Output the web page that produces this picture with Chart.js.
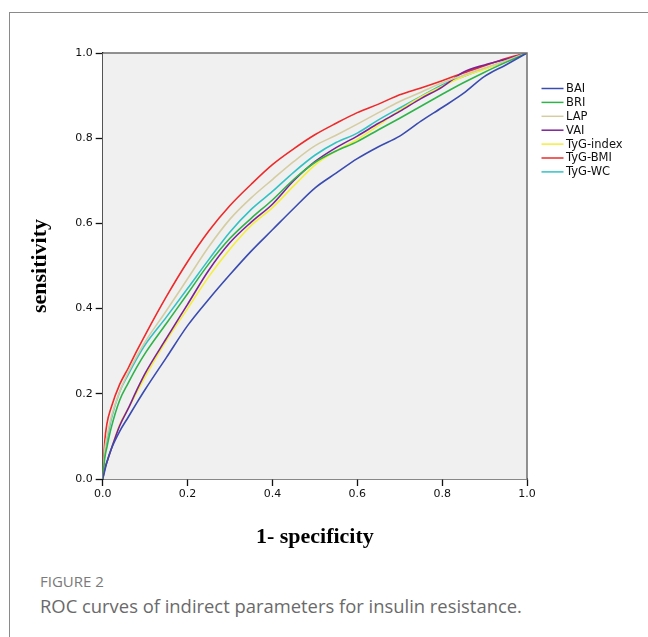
<!DOCTYPE html>
<html>
<head>
<meta charset="utf-8">
<script src="https://cdn.jsdelivr.net/npm/chart.js@4.4.1/dist/chart.umd.min.js"></script>
<style>
  body { margin: 0; background: #fff; }
  #wrap { position: relative; width: 648px; height: 637px; overflow: hidden; }
  #frame { position: absolute; left: 9px; top: 12px; right: -2px; bottom: -2px;
           border-left: 1.5px solid #8a8a8a; border-top: 1.5px solid #8a8a8a; }
  #cv { position: absolute; left: 0; top: 0; }
  .cap1 { position: absolute; left: 40px; top: 571px; font: 15px "Open Sans", sans-serif; color: #7a7a7a; }
  .cap2 { position: absolute; left: 40px; top: 593px; font: 18.4px "Open Sans", sans-serif; color: #6a6a6a; }
</style>
</head>
<body>
<div id="wrap">
  <div id="frame"></div>
  <canvas id="cv" width="648" height="565"></canvas>
  <div class="cap1">FIGURE 2</div>
  <div class="cap2">ROC curves of indirect parameters for insulin resistance.</div>
</div>
<script>
// 1 - specificity
var fpr = [0, 0.005, 0.01, 0.02, 0.04, 0.06, 0.08, 0.1, 0.15, 0.2, 0.25, 0.3, 0.35, 0.4, 0.45, 0.5, 0.55, 0.6, 0.65, 0.7, 0.75, 0.8, 0.85, 0.9, 0.95, 1];
// sensitivity per index
var bai = [0, 0.02, 0.04, 0.07, 0.112, 0.145, 0.178, 0.21, 0.285, 0.36, 0.422, 0.48, 0.535, 0.585, 0.635, 0.683, 0.718, 0.752, 0.78, 0.805, 0.84, 0.872, 0.905, 0.945, 0.972, 1];
var bri = [0, 0.05, 0.075, 0.12, 0.185, 0.225, 0.262, 0.295, 0.365, 0.435, 0.505, 0.565, 0.612, 0.655, 0.703, 0.743, 0.77, 0.792, 0.82, 0.847, 0.875, 0.903, 0.93, 0.955, 0.978, 1];
var lap = [0, 0.07, 0.10, 0.145, 0.205, 0.25, 0.288, 0.322, 0.395, 0.47, 0.545, 0.61, 0.66, 0.703, 0.745, 0.782, 0.807, 0.833, 0.86, 0.886, 0.908, 0.93, 0.948, 0.965, 0.982, 1];
var vai = [0, 0.025, 0.04, 0.07, 0.125, 0.165, 0.208, 0.248, 0.33, 0.41, 0.49, 0.555, 0.603, 0.645, 0.70, 0.745, 0.778, 0.805, 0.835, 0.863, 0.893, 0.92, 0.955, 0.972, 0.985, 1];
var tygIndex = [0, 0.025, 0.04, 0.07, 0.128, 0.165, 0.203, 0.24, 0.325, 0.40, 0.475, 0.54, 0.595, 0.637, 0.688, 0.737, 0.77, 0.797, 0.83, 0.866, 0.897, 0.922, 0.945, 0.962, 0.982, 1];
var tygBmi = [0, 0.09, 0.13, 0.168, 0.222, 0.26, 0.3, 0.338, 0.428, 0.51, 0.582, 0.642, 0.692, 0.738, 0.775, 0.808, 0.835, 0.86, 0.88, 0.902, 0.918, 0.935, 0.953, 0.97, 0.987, 1];
var tygWc = [0, 0.065, 0.09, 0.14, 0.205, 0.245, 0.282, 0.315, 0.38, 0.447, 0.515, 0.58, 0.633, 0.675, 0.72, 0.76, 0.79, 0.812, 0.843, 0.871, 0.898, 0.925, 0.945, 0.963, 0.98, 1];

var nombres = ['BAI', 'BRI', 'LAP', 'VAI', 'TyG-index', 'TyG-BMI', 'TyG-WC'];
var series = [bai, bri, lap, vai, tygIndex, tygBmi, tygWc];
var colores = ['#3a4cb0', '#2fb34a', '#d4cda2', '#7d2296', '#f4ee3c', '#ee2a2a', '#33c2c4'];
var tickLabels = ['0.0', '0.2', '0.4', '0.6', '0.8', '1.0'];

function puntos(ys) {
    var out = [];
    for (var i = 0; i < fpr.length; i++) {
        out.push({ x: fpr[i], y: ys[i] });
    }
    return out;
}

var datasets = [];
for (var k = 0; k < series.length; k++) {
    datasets.push({
        label: nombres[k],
        data: puntos(series[k]),
        borderColor: colores[k],
        borderWidth: 1.6,
        pointRadius: 0,
        fill: false,
        cubicInterpolationMode: 'monotone'
    });
}

// grey plot background + top/right frame
var fondo = {
    id: 'fondo',
    beforeDatasetsDraw: function(chart) {
        var a = chart.chartArea, ctx = chart.ctx;
        ctx.save();
        ctx.fillStyle = '#f0f0f0';
        ctx.fillRect(a.left, a.top, a.right - a.left, a.bottom - a.top);
        ctx.restore();
    },
    afterDatasetsDraw: function(chart) {
        var a = chart.chartArea, ctx = chart.ctx;
        ctx.save();
        ctx.strokeStyle = '#6e6e6e';
        ctx.lineWidth = 1.5;
        ctx.beginPath();
        ctx.moveTo(a.left, a.top);
        ctx.lineTo(a.right, a.top);
        ctx.lineTo(a.right, a.bottom);
        ctx.stroke();
        ctx.restore();
    }
};

// legend to the right of the plot
var leyenda = {
    id: 'leyenda',
    afterDraw: function(chart) {
        var ctx = chart.ctx;
        ctx.save();
        ctx.font = '11.5px "DejaVu Sans"';
        ctx.textBaseline = 'middle';
        chart.data.datasets.forEach(function(ds, i) {
            var y = 88.5 + i * 13.9;
            ctx.strokeStyle = ds.borderColor;
            ctx.lineWidth = 1.5;
            ctx.beginPath();
            ctx.moveTo(541.5, y);
            ctx.lineTo(563.5, y);
            ctx.stroke();
            ctx.fillStyle = '#111';
            ctx.fillText(ds.label, 566, y + 0.5);
        });
        ctx.restore();
    }
};

var ctx = document.getElementById('cv');
var myChart = new Chart(ctx, {
    type: 'line',
    data: { datasets: datasets },
    plugins: [fondo, leyenda],
    options: {
        responsive: false,
        animation: false,
        layout: { padding: { top: 53, right: 121, left: 0, bottom: 0 } },
        plugins: { legend: { display: false }, tooltip: { enabled: false } },
        scales: {
            x: {
                type: 'linear', min: 0, max: 1,
                afterFit: function(s) { s.height = 86; },
                border: { display: true, color: '#111', width: 1.5 },
                grid: { drawOnChartArea: false, drawTicks: true, tickLength: 7, tickColor: '#111', tickWidth: 1.3 },
                ticks: {
                    stepSize: 0.2, padding: 2, color: '#111',
                    font: { family: 'DejaVu Sans', size: 11 },
                    maxRotation: 0,
                    callback: function(v) { return tickLabels[Math.round(v * 5)]; }
                },
                title: {
                    display: true, text: '1- specificity', color: '#000',
                    font: { family: 'Liberation Serif', size: 22, weight: 'bold' },
                    padding: { top: 0, bottom: 14 }
                }
            },
            y: {
                type: 'linear', min: 0, max: 1,
                afterFit: function(s) { s.width = 102.7; },
                border: { display: true, color: '#111', width: 1.5 },
                grid: { drawOnChartArea: false, drawTicks: true, tickLength: 7, tickColor: '#111', tickWidth: 1.3 },
                ticks: {
                    stepSize: 0.2, padding: 3, color: '#111',
                    font: { family: 'DejaVu Sans', size: 11 },
                    callback: function(v) { return tickLabels[Math.round(v * 5)]; }
                },
                title: {
                    display: true, text: 'sensitivity', color: '#000',
                    font: { family: 'Liberation Serif', size: 22, weight: 'bold' },
                    padding: { top: 27, bottom: 0 }
                }
            }
        }
    }
});
</script>
</body>
</html>
